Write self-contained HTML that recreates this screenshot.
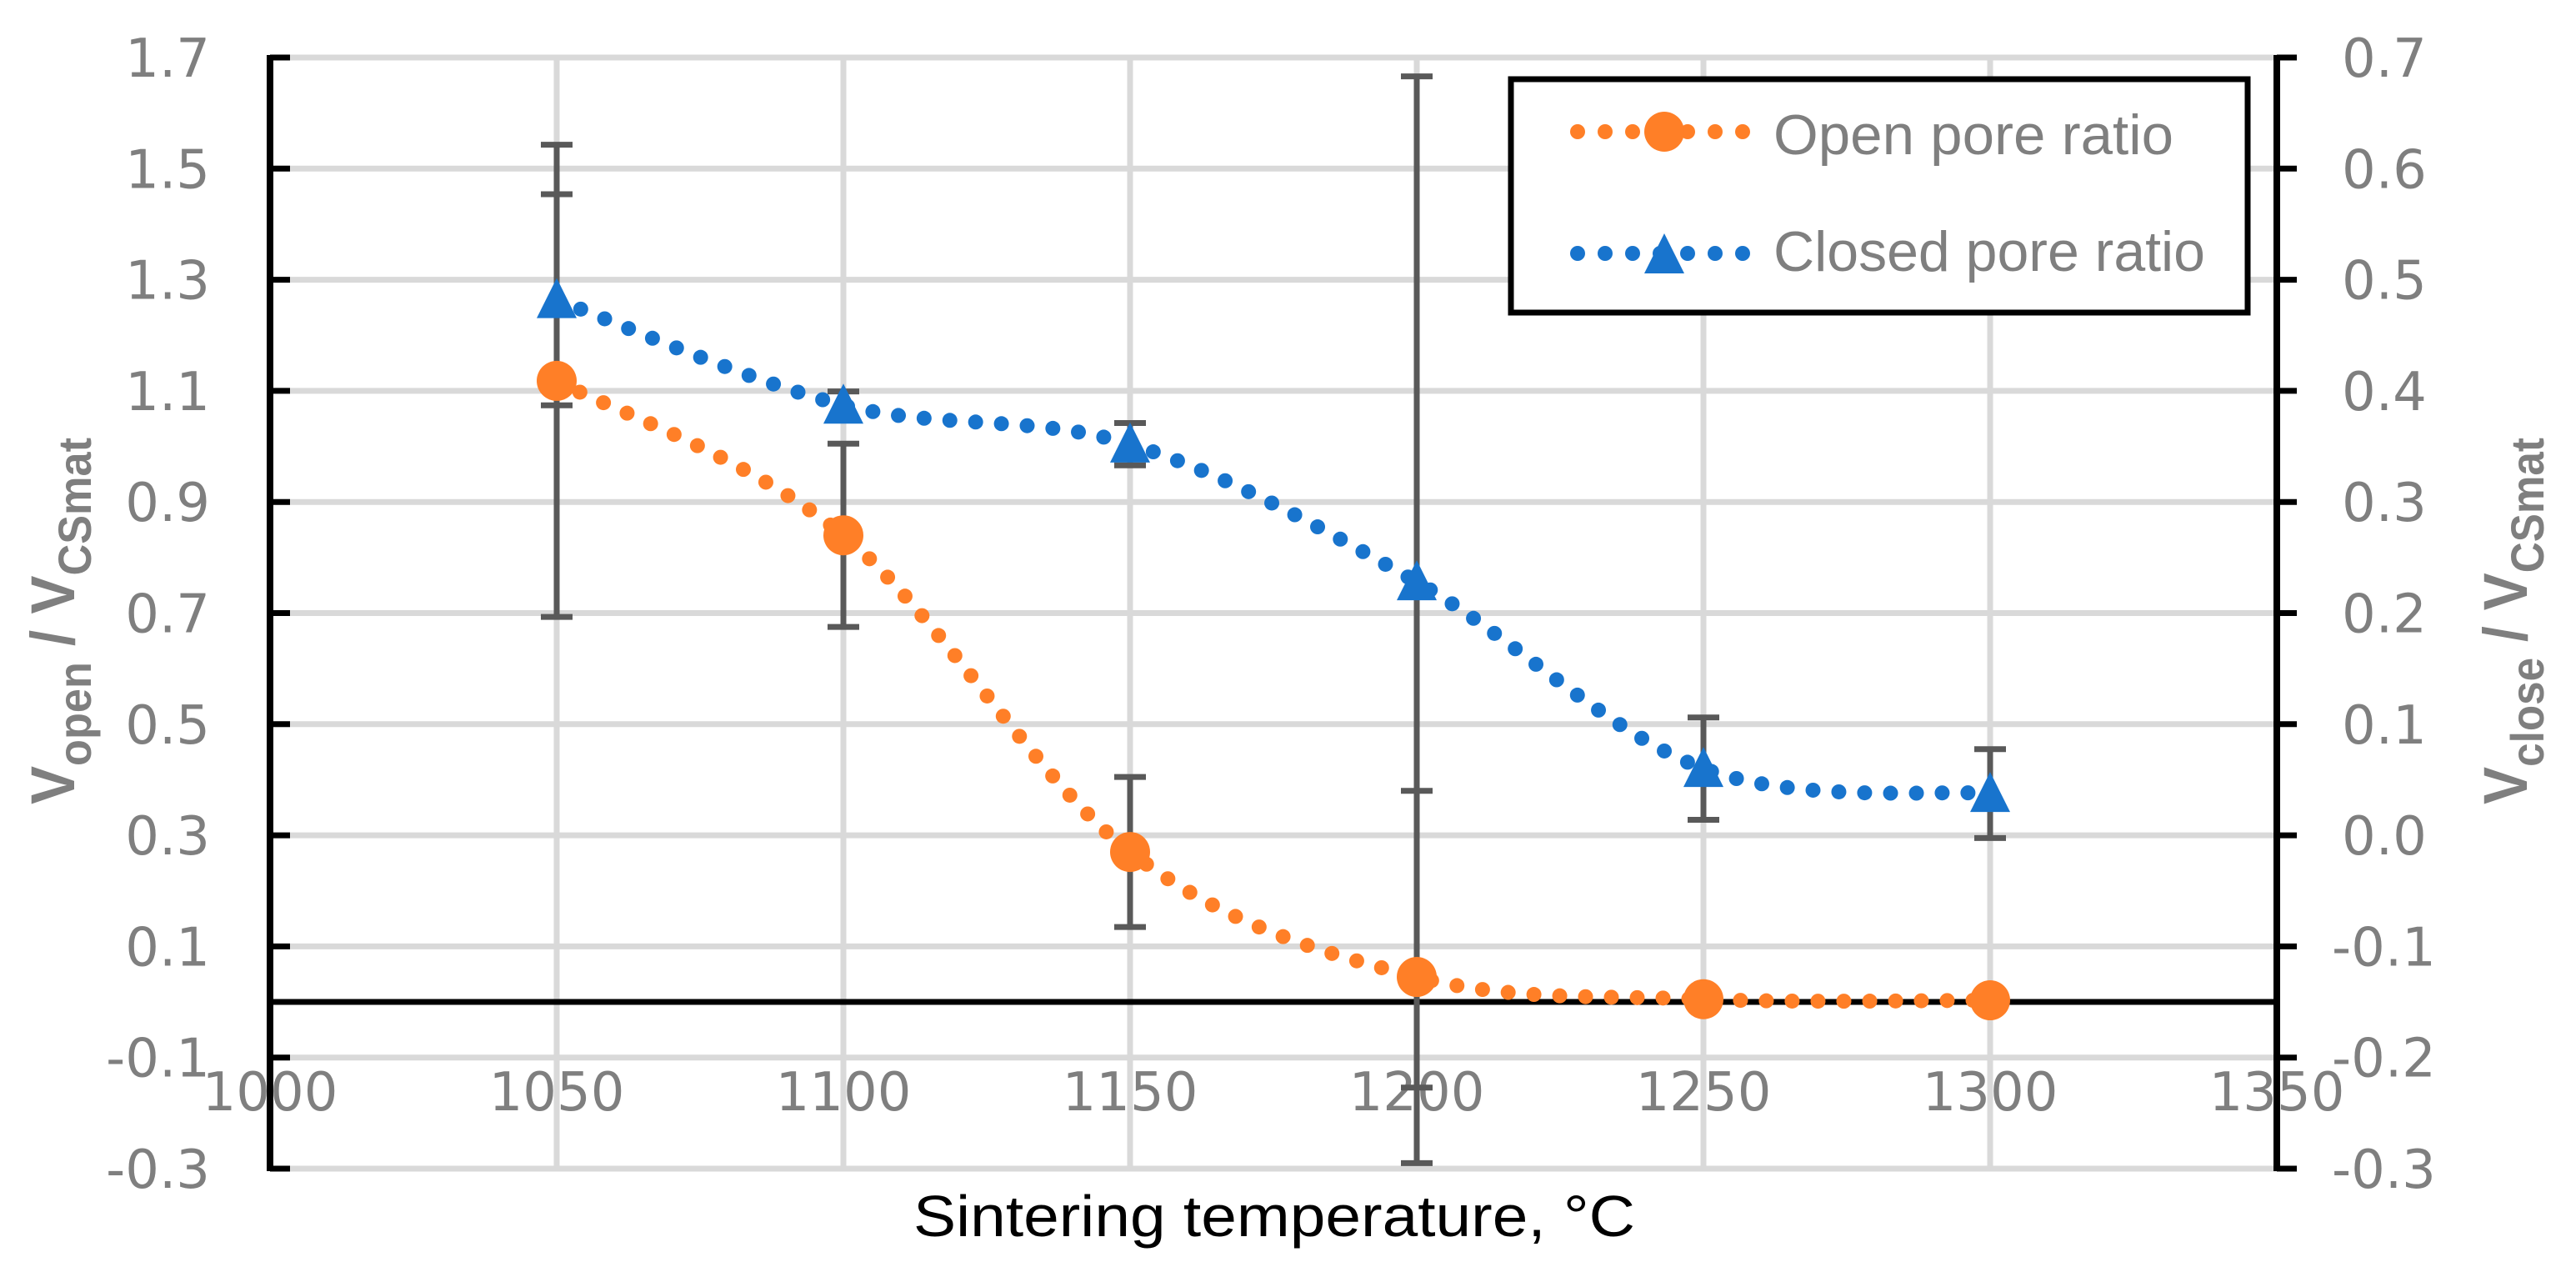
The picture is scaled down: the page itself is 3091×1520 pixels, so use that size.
<!DOCTYPE html>
<html><head><meta charset="utf-8"><style>
html,body{margin:0;padding:0;background:#fff;}
svg{display:block;}
</style></head><body>
<svg id="chart" xmlns="http://www.w3.org/2000/svg" width="3091" height="1520" viewBox="0 0 3091 1520">
<rect width="3091" height="1520" fill="#fff"/>
<g id="grid"></g>
<g id="axes"></g>
<g id="err"></g>
<g id="series"></g>
<text x="1529" y="1483" font-family="'Liberation Sans Narrow','Liberation Sans',sans-serif" font-size="70" fill="#000" text-anchor="middle" textLength="866" lengthAdjust="spacingAndGlyphs">Sintering temperature, °C</text>
<text transform="translate(89,745) rotate(-90)" font-family="'Liberation Sans Narrow','Liberation Sans',sans-serif" font-weight="bold" font-size="74" fill="#7f7f7f" text-anchor="middle" textLength="440" lengthAdjust="spacingAndGlyphs">V<tspan font-size="56" dy="20">open</tspan><tspan dy="-20"> / V</tspan><tspan font-size="56" dy="20">CSmat</tspan></text>
<text transform="translate(3032,745) rotate(-90)" font-family="'Liberation Sans Narrow','Liberation Sans',sans-serif" font-weight="bold" font-size="74" fill="#7f7f7f" text-anchor="middle" textLength="440" lengthAdjust="spacingAndGlyphs">V<tspan font-size="56" dy="20">close</tspan><tspan dy="-20"> / V</tspan><tspan font-size="56" dy="20">CSmat</tspan></text>
<g>
<rect x="1813" y="95" width="884" height="280" fill="#fff" stroke="#000" stroke-width="7"/>
<g>
<line x1="1893" y1="158" x2="2103" y2="158" stroke="#FF7F27" stroke-width="18" stroke-linecap="round" stroke-dasharray="0 33"/>
<ellipse cx="1997" cy="158" rx="24" ry="24" fill="#FF7F27"/>
<text x="2128" y="185" font-family="'Liberation Sans Narrow','Liberation Sans',sans-serif" font-size="68" fill="#7f7f7f" textLength="480" lengthAdjust="spacingAndGlyphs">Open pore ratio</text>
</g>
<g>
<line x1="1893" y1="304" x2="2103" y2="304" stroke="#1874CD" stroke-width="18" stroke-linecap="round" stroke-dasharray="0 33"/>
<polygon points="1997,280 2021,328 1973,328" fill="#1874CD"/>
<text x="2128" y="325" font-family="'Liberation Sans Narrow','Liberation Sans',sans-serif" font-size="68" fill="#7f7f7f" textLength="518" lengthAdjust="spacingAndGlyphs">Closed pore ratio</text>
</g>
</g>
</svg>
<script>
const temps = [1050, 1100, 1150, 1200, 1250, 1300];
const openVals = [1.118, 0.84, 0.27, 0.045, 0.005, 0.003];
const openErr = [0.425, 0.165, 0.135, 0.335, 0, 0];
const closedVals = [0.482, 0.387, 0.352, 0.228, 0.06, 0.0375];
const closedErr = [0.095, 0.0125, 0.019, 0.455, 0.046, 0.04];
const leftTicks = ["1.7","1.5","1.3","1.1","0.9","0.7","0.5","0.3","0.1","-0.1","-0.3"];
const rightTicks = ["0.7","0.6","0.5","0.4","0.3","0.2","0.1","0.0","-0.1","-0.2","-0.3"];
const xTicks = [1000,1050,1100,1150,1200,1250,1300,1350];

const NS = "http://www.w3.org/2000/svg";
const X0 = 324, X1 = 2732, Y0 = 69, Y1 = 1402;
const xs = t => X0 + (t - 1000) / 350 * (X1 - X0);
const yl = v => Y1 - (v + 0.3) / 2.0 * (Y1 - Y0);
const yr = v => Y1 - (v + 0.3) / 1.0 * (Y1 - Y0);
function mk(parent, tag, attrs) {
  const e = document.createElementNS(NS, tag);
  for (const k in attrs) e.setAttribute(k, attrs[k]);
  parent.appendChild(e);
  return e;
}
const grid = document.getElementById('grid');
const axes = document.getElementById('axes');
const errG = document.getElementById('err');
const ser = document.getElementById('series');
const tickFont = "'DejaVu Sans','Liberation Sans',sans-serif";

leftTicks.forEach((lab) => {
  const v = parseFloat(lab);
  const y = yl(v);
  const g = mk(grid, 'line', {x1: X0, x2: X1, y1: y, y2: y, stroke: '#d9d9d9', 'stroke-width': 7});
  
  
  const t = mk(axes, 'line', {x1: X0, x2: X0 + 24, y1: y, y2: y, stroke: '#000', 'stroke-width': 7});
  
  
  const tx = mk(axes, 'text', {x: 252, y: y + 23, 'font-family': tickFont, 'font-size': 64, fill: '#7f7f7f', 'text-anchor': 'end'});
  tx.textContent = lab;
  
  
});
rightTicks.forEach((lab) => {
  const v = parseFloat(lab);
  const y = yr(v);
  const t = mk(axes, 'line', {x1: X1, x2: X1 + 24, y1: y, y2: y, stroke: '#000', 'stroke-width': 7});
  
  
  const tx = mk(axes, 'text', {x: v < 0 ? 2798 : 2810, y: y + 23, 'font-family': tickFont, 'font-size': 64, fill: '#7f7f7f'});
  tx.textContent = lab;
  
  
});
xTicks.forEach((t) => {
  const x = xs(t);
  if (t !== 1000 && t !== 1350) {
    const g = mk(grid, 'line', {x1: x, x2: x, y1: Y0, y2: Y1, stroke: '#d9d9d9', 'stroke-width': 7});
    
    
  }
  const tx = mk(axes, 'text', {x: x, y: 1332, 'font-family': tickFont, 'font-size': 64, fill: '#7f7f7f', 'text-anchor': 'middle'});
  tx.textContent = String(t);
  
  
});
let a = mk(axes, 'line', {x1: X0, x2: X0, y1: Y0 - 3, y2: Y1 + 3, stroke: '#000', 'stroke-width': 8});


a = mk(axes, 'line', {x1: X1, x2: X1, y1: Y0 - 3, y2: Y1 + 3, stroke: '#000', 'stroke-width': 8});


a = mk(axes, 'line', {x1: X0, x2: X1, y1: yl(0), y2: yl(0), stroke: '#000', 'stroke-width': 7});



function errBar(x, yTop, yBot, name) {
  if (Math.abs(yBot - yTop) < 1) return;
  const l = mk(errG, 'line', {x1: x, x2: x, y1: yTop, y2: yBot, stroke: '#595959', 'stroke-width': 7});
  
  
  [yTop, yBot].forEach(y => {
    const c = mk(errG, 'line', {x1: x - 19, x2: x + 19, y1: y, y2: y, stroke: '#595959', 'stroke-width': 7});
    
    
  });
}
temps.forEach((t, i) => {
  const x = xs(t);
  errBar(x, yl(openVals[i] + openErr[i]), yl(openVals[i] - openErr[i]), 'open-error-bar');
  errBar(x, yr(closedVals[i] + closedErr[i]), yr(closedVals[i] - closedErr[i]), 'closed-error-bar');
});

function smoothPath(pts) {
  let d = `M${pts[0][0]},${pts[0][1]}`;
  for (let i = 0; i < pts.length - 1; i++) {
    const p0 = pts[i - 1] || pts[i], p1 = pts[i], p2 = pts[i + 1], p3 = pts[i + 2] || p2;
    const c1 = [p1[0] + (p2[0] - p0[0]) / 6, p1[1] + (p2[1] - p0[1]) / 6];
    const c2 = [p2[0] - (p3[0] - p1[0]) / 6, p2[1] - (p3[1] - p1[1]) / 6];
    d += ` C${c1[0]},${c1[1]} ${c2[0]},${c2[1]} ${p2[0]},${p2[1]}`;
  }
  return d;
}
const openPts = temps.map((t, i) => [xs(t), yl(openVals[i])]);
const closedPts = temps.map((t, i) => [xs(t), yr(closedVals[i])]);
let p = mk(ser, 'path', {d: smoothPath(openPts), fill: 'none', stroke: '#FF7F27', 'stroke-width': 18, 'stroke-linecap': 'round', 'stroke-dasharray': '0 31'});


p = mk(ser, 'path', {d: smoothPath(closedPts), fill: 'none', stroke: '#1874CD', 'stroke-width': 18, 'stroke-linecap': 'round', 'stroke-dasharray': '0 31'});


openPts.forEach(([x, y]) => {
  const c = mk(ser, 'circle', {cx: x, cy: y, r: 24, fill: '#FF7F27'});
  
  
});
closedPts.forEach(([x, y]) => {
  const tr = mk(ser, 'polygon', {points: `${x},${y - 26} ${x + 24},${y + 22} ${x - 24},${y + 22}`, fill: '#1874CD'});
  
  
});
</script>
</body></html>
